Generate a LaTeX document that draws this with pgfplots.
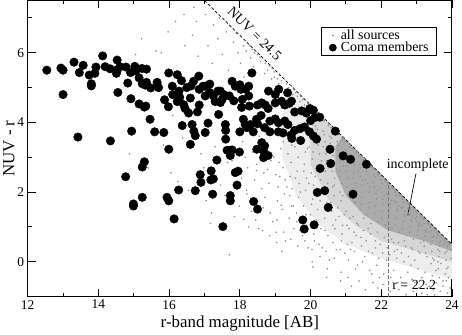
\documentclass[border=0pt]{standalone}
\usepackage{fontspec}
\setmainfont{Liberation Serif}
\usepackage{pgfplots}
\pgfplotsset{compat=1.18}

\begin{document}
\begin{tikzpicture}
\begin{axis}[
  scale only axis,
  width=427pt, height=298pt,
  xmin=12, xmax=24, ymin=-1, ymax=7.5,
  xtick={12,14,...,24}, ytick={0,2,4,6},
  minor xtick={13,15,...,23}, minor ytick={1,3,5,7},
  tick align=inside,
  major tick length=8pt, minor tick length=4pt,
  tick style={black, line width=0.9pt},
  axis line style={line width=1pt},
  tick label style={font=\fontsize{13.5}{14}\selectfont},
  /pgf/number format/assume math mode=true,
  xlabel={r-band magnitude [AB]}, ylabel={NUV - r},
  label style={font=\fontsize{17}{18}\selectfont},
  ylabel style={yshift=-4pt},
  legend style={at={(0.964,0.91)}, anchor=north east, draw=black, line width=0.6pt,
    font=\fontsize{14}{15}\selectfont, inner xsep=6pt, inner ysep=0.5pt, row sep=-3pt},
  legend cell align=left,
]
% dense part of the cloud of all sources
\addplot[fill=black!7, draw=none, forget plot] coordinates
  {(19.5,5.0) (24,0.5) (24,-0.5) (23,-0.2) (22,0.1) (21,0.5) (20.2,1.1) (19.6,1.9) (19.2,3.0) (19.2,4.2)} -- cycle;
\addplot[fill=black!16, draw=none, forget plot] coordinates
  {(20.2,4.3) (24,0.5) (24,0.0) (23,0.3) (22,0.6) (21.2,1.1) (20.5,1.8) (20.0,2.8) (20.0,3.8)} -- cycle;
\addplot[fill=black!33, draw=none, forget plot] coordinates
  {(20.9,3.6) (24,0.5) (24,0.3) (23.2,0.6) (22.2,0.9) (21.5,1.35) (21.0,1.9) (20.7,2.6) (20.7,3.3)} -- cycle;

% all sources
\addplot[only marks, mark=*, mark size=0.6pt, black!42,
  legend image code/.code={\path (0,0) (0.4cm,0); \fill[black!42] (0.2cm,0) circle (0.6pt);}] coordinates {
(15.05,5.95) (14.88,3.1) (15.22,6.4) (15.41,2.7) (15.37,4.1) (15.63,6.05) (15.78,6.0) (15.84,3.35)
(16.05,2.55) (15.97,6.6) (16.1,4.2) (16.18,6.9) (16.25,2.3) (16.42,7.1) (16.38,3.55) (16.45,6.2)
(16.55,2.05) (16.66,6.5) (16.7,7.3) (16.82,5.9) (16.9,3.1) (16.77,6.9)
(17.03,7.1) (17.1,6.2) (16.98,2.7) (17.05,1.75) (17.17,1.1) (17.2,1.4) (17.25,6.8) (17.22,5.7) (17.3,3.3)
(17.38,6.4) (17.45,2.2) (17.42,7.0) (17.5,5.95) (17.7,0.2) (17.62,6.6) (17.58,1.9) (17.65,2.85) (17.68,5.5)
(17.82,6.3) (17.85,1.3) (17.9,6.55) (17.78,2.9) (17.95,6.0)
(18.02,5.7) (18.05,2.4) (18.1,6.2) (17.98,1.6) (18.08,3.45) (18.12,5.3)
(18.18,6.05) (18.25,1.0) (18.22,2.7) (18.3,5.85) (18.15,3.0) (18.28,6.2) (18.2,1.95)
(18.38,5.6) (18.42,2.35) (18.45,1.2) (18.5,5.95) (18.36,3.15) (18.48,2.8) (18.41,6.0)
(18.58,5.75) (18.62,2.1) (18.66,1.55) (18.7,5.4) (18.55,3.6) (18.68,2.55) (18.64,0.9) (18.72,5.7)
(18.78,5.5) (18.82,2.25) (18.86,1.4) (18.9,5.25) (18.76,3.35) (18.88,2.9) (18.84,0.75) (18.92,5.55)
(18.98,5.3) (19.02,2.5) (19.06,1.75) (19.1,5.1) (18.96,3.0) (19.08,2.15) (19.04,0.55) (19.12,5.35) (19.0,4.1) (19.05,1.2)
(19.18,5.2) (19.22,2.7) (19.26,1.95) (19.3,4.95) (19.16,3.25) (19.28,2.35) (19.24,0.85) (19.32,5.1) (19.2,1.5) (19.25,3.9) (19.19,0.3)
(19.38,5.0) (19.42,2.45) (19.46,1.6) (19.5,4.8) (19.36,3.1) (19.48,2.1) (19.44,0.65) (19.52,4.95) (19.4,1.25) (19.45,2.85) (19.39,3.6)
(19.58,4.85) (19.62,2.6) (19.66,1.85) (19.7,4.6) (19.56,3.3) (19.68,2.25) (19.64,0.45) (19.72,4.75) (19.6,1.4) (19.65,3.0) (19.59,4.2) (19.69,0.9)
(19.78,4.65) (19.82,2.8) (19.86,2.05) (19.9,4.45) (19.76,3.5) (19.88,2.4) (19.84,0.6) (19.92,4.55) (19.8,1.6) (19.85,3.15) (19.79,3.95) (19.89,1.05)
(19.98,4.45) (20.02,2.55) (20.06,1.8) (20.1,4.25) (19.96,3.3) (20.08,2.2) (20.04,0.35) (20.12,4.3) (20.0,1.35) (20.05,2.95) (19.99,3.75) (20.09,0.8) (20.03,4.05) (20.07,-0.15)
(20.18,4.25) (20.22,2.75) (20.26,1.95) (20.3,4.05) (20.16,3.45) (20.28,2.35) (20.24,0.5) (20.32,4.1) (20.2,1.5) (20.25,3.1) (20.19,3.8) (20.29,0.95) (20.23,2.1) (20.27,0.15) (20.21,3.6)
(20.38,4.05) (20.42,2.6) (20.46,1.7) (20.5,3.9) (20.36,3.3) (20.48,2.25) (20.44,0.3) (20.52,3.95) (20.4,1.25) (20.45,2.9) (20.39,3.65) (20.49,0.75) (20.43,1.95) (20.47,-0.2) (20.41,3.45)
(20.58,3.85) (20.62,2.8) (20.66,1.9) (20.7,3.7) (20.56,3.4) (20.68,2.4) (20.64,0.55) (20.72,3.75) (20.6,1.45) (20.65,3.05) (20.59,3.55) (20.69,0.95) (20.63,2.15) (20.67,0.1) (20.61,2.6) (20.71,1.2)
(20.78,3.65) (20.82,2.6) (20.86,1.75) (20.9,3.5) (20.76,3.2) (20.88,2.25) (20.84,0.35) (20.92,3.55) (20.8,1.3) (20.85,2.9) (20.79,3.35) (20.89,0.8) (20.83,2.0) (20.87,-0.3) (20.81,2.45) (20.91,1.05)
(20.98,3.45) (21.02,2.75) (21.06,1.9) (21.1,3.3) (20.96,3.1) (21.08,2.4) (21.04,0.5) (21.12,3.35) (21.0,1.45) (21.05,2.95) (20.99,3.2) (21.09,0.95) (21.03,2.15) (21.07,0.05) (21.01,2.6) (21.11,1.25) (21.06,-0.45)
(21.18,3.25) (21.22,2.55) (21.26,1.7) (21.3,3.1) (21.16,2.9) (21.28,2.25) (21.24,0.3) (21.32,3.15) (21.2,1.3) (21.25,2.8) (21.19,3.0) (21.29,0.75) (21.23,2.0) (21.27,-0.2) (21.21,2.4) (21.31,1.1) (21.17,0.55)
(21.38,3.05) (21.42,2.7) (21.46,1.85) (21.5,2.9) (21.36,2.6) (21.48,2.35) (21.44,0.45) (21.52,2.95) (21.4,1.5) (21.45,2.2) (21.39,2.8) (21.49,0.9) (21.43,1.65) (21.47,0.0) (21.41,2.45) (21.51,1.25) (21.37,-0.55)
(21.58,2.85) (21.62,2.5) (21.66,1.7) (21.7,2.75) (21.56,2.35) (21.68,2.15) (21.64,0.3) (21.72,2.7) (21.6,1.35) (21.65,2.0) (21.59,2.6) (21.69,0.8) (21.63,1.55) (21.67,-0.25) (21.61,2.25) (21.71,1.1) (21.57,0.6)
(21.78,2.65) (21.82,2.45) (21.86,1.8) (21.9,2.55) (21.76,2.3) (21.88,2.05) (21.84,0.4) (21.92,2.5) (21.8,1.4) (21.85,1.95) (21.79,2.5) (21.89,0.85) (21.83,1.6) (21.87,-0.1) (21.81,2.15) (21.91,1.15) (21.77,-0.6)
(21.98,2.45) (22.02,2.25) (22.06,1.65) (22.1,2.35) (21.96,2.1) (22.08,1.9) (22.04,0.25) (22.12,2.3) (22.0,1.25) (22.05,1.8) (21.99,2.35) (22.09,0.7) (22.03,1.45) (22.07,-0.35) (22.01,2.0) (22.11,1.05) (21.97,0.5)
(22.18,2.25) (22.22,2.1) (22.26,1.55) (22.3,2.15) (22.16,1.95) (22.28,1.75) (22.24,0.2) (22.32,2.1) (22.2,1.15) (22.25,1.65) (22.19,2.2) (22.29,0.65) (22.23,1.35) (22.27,-0.45) (22.21,1.85) (22.31,0.95) (22.17,0.4)
(22.38,2.05) (22.42,1.9) (22.46,1.45) (22.5,1.95) (22.36,1.75) (22.48,1.6) (22.44,0.1) (22.52,1.9) (22.4,1.05) (22.45,1.5) (22.39,2.0) (22.49,0.55) (22.43,1.25) (22.47,-0.6) (22.41,1.7) (22.51,0.85) (22.37,0.3)
(22.58,1.85) (22.62,1.7) (22.66,1.3) (22.7,1.75) (22.56,1.55) (22.68,1.45) (22.64,0.0) (22.72,1.7) (22.6,0.95) (22.65,1.35) (22.59,1.8) (22.69,0.45) (22.63,1.15) (22.67,-0.7) (22.61,1.55) (22.71,0.75) (22.57,0.25)
(22.78,1.65) (22.82,1.5) (22.86,1.15) (22.9,1.55) (22.76,1.4) (22.88,1.3) (22.84,-0.1) (22.92,1.5) (22.8,0.85) (22.85,1.2) (22.79,1.6) (22.89,0.35) (22.83,1.0) (22.87,-0.5) (22.81,1.35) (22.91,0.65) (22.77,0.15)
(22.98,1.45) (23.02,1.3) (23.06,1.0) (23.1,1.35) (22.96,1.25) (23.08,1.1) (23.04,-0.2) (23.12,1.3) (23.0,0.75) (23.05,1.05) (22.99,1.4) (23.09,0.25) (23.03,0.9) (23.07,-0.75) (23.01,1.15) (23.11,0.55)
(23.18,1.25) (23.22,1.1) (23.26,0.85) (23.3,1.15) (23.16,1.05) (23.28,0.95) (23.24,-0.3) (23.32,1.1) (23.2,0.6) (23.25,0.9) (23.19,1.2) (23.29,0.15) (23.23,0.75) (23.27,-0.65) (23.21,0.45)
(23.38,1.05) (23.42,0.9) (23.46,0.7) (23.5,0.95) (23.36,0.85) (23.48,0.75) (23.44,-0.4) (23.52,0.9) (23.4,0.5) (23.45,0.6) (23.39,1.0) (23.49,0.05) (23.43,0.3) (23.47,-0.8) (23.41,-0.05)
(23.58,0.85) (23.62,0.75) (23.66,0.55) (23.7,0.75) (23.56,0.7) (23.68,0.6) (23.64,-0.45) (23.72,0.7) (23.6,0.35) (23.65,0.45) (23.59,0.8) (23.69,-0.05) (23.63,0.15) (23.67,-0.85) (23.61,-0.2)
(23.78,0.65) (23.82,0.55) (23.86,0.4) (23.9,0.55) (23.76,0.5) (23.88,0.45) (23.84,-0.55) (23.92,0.5) (23.8,0.25) (23.85,0.3) (23.79,0.6) (23.89,-0.15) (23.83,0.05) (23.87,-0.9) (23.81,-0.35) (23.95,0.35) (23.97,0.1)
(22.9,-0.85) (23.3,-0.95) (23.75,-0.7) (22.5,-0.8) (21.9,-0.75) (23.55,-0.6)
(18.11,1.22) (18.19,2.05) (18.33,1.45) (18.47,2.62) (18.53,0.95) (18.71,1.85) (18.79,2.65) (18.93,1.15)
(18.35,6.1) (18.57,5.88) (18.83,5.62) (18.97,5.45) (18.13,6.35) (18.61,2.95) (18.46,1.8)
(19.03,0.85) (19.11,2.85) (19.17,1.62) (19.23,3.45) (19.29,0.6) (19.33,2.15) (19.41,1.9) (19.47,3.35)
(19.53,0.95) (19.57,2.4) (19.61,1.15) (19.67,3.55) (19.71,2.0) (19.77,0.75) (19.81,2.6) (19.87,1.35)
(19.91,3.25) (19.95,2.25) (19.07,5.25) (19.34,4.95) (19.63,4.75) (19.83,4.5) (19.13,2.45) (19.51,1.6) (19.93,0.4)
(20.03,1.65) (20.07,3.15) (20.11,0.6) (20.13,2.45) (20.17,1.2) (20.21,3.35) (20.27,1.75) (20.31,2.9)
(20.33,0.4) (20.37,2.1) (20.41,0.9) (20.43,3.1) (20.47,1.45) (20.51,2.7) (20.53,0.05) (20.57,1.7)
(20.61,3.25) (20.63,1.05) (20.67,2.2) (20.73,0.35) (20.75,2.65) (20.77,1.55) (20.83,3.0) (20.87,0.6)
(20.91,1.9) (20.93,2.75) (20.97,0.25) (20.15,3.9) (20.35,3.75) (20.55,3.6) (20.75,3.45) (20.95,1.35)
(20.45,-0.45) (20.85,-0.55) (20.05,0.0)
(21.03,1.05) (21.13,0.35) (21.23,0.85) (21.33,-0.1) (21.43,0.7) (21.53,0.15) (21.63,0.95) (21.73,-0.35)
(21.83,0.6) (21.93,0.1) (21.15,-0.7) (21.55,-0.8) (21.95,-0.45) (21.35,1.05) (21.75,0.25)
(22.05,-0.65) (22.15,0.05) (22.35,-0.25) (22.45,0.35) (22.55,-0.45) (22.65,0.6) (22.75,-0.3) (22.85,0.4)
(22.95,-0.6) (23.05,0.3) (23.15,-0.45) (23.25,0.25) (23.35,-0.7) (23.45,0.1) (23.55,-0.25) (23.65,0.3)
(23.75,-0.55) (23.85,-0.2) (23.95,-0.75) (22.25,-0.85) (22.7,-0.95) (23.15,-0.9) (23.9,-0.45) (23.5,-0.95)
(22.35,0.55) (22.95,0.05) (23.6,0.0)
};
\addlegendentry{all sources}

% completeness limits
\addplot[black, line width=0.7pt, dash pattern=on 3pt off 2pt, forget plot] coordinates {(17,7.5) (24,0.5)};
\addplot[black!55, line width=1pt, dash pattern=on 4pt off 2pt, forget plot] coordinates {(22.2,-1) (22.2,2.3)};
\addplot[black, line width=0.7pt, forget plot] coordinates {(22.98,2.53) (22.75,1.33)};

% Coma members
\addplot[only marks, mark=*, mark size=4.3pt, black,
  legend image code/.code={\path (0,0) (0.4cm,0); \fill[black] (0.2cm,0) circle (3.6pt);}] coordinates {
(12.54,5.50) (12.94,5.56) (13.0,5.50) (13.0,4.80) (13.31,5.73) (13.46,5.43) (13.57,5.64) (13.74,5.36)
(13.8,5.11) (13.8,5.05) (13.93,5.59) (13.9,5.41) (14.12,5.91) (14.19,5.60) (14.33,5.54) (14.53,5.79)
(14.54,5.52) (14.51,5.41) (14.55,4.86) (14.61,5.6) (14.78,5.59) (14.83,5.13) (14.91,5.43) (14.92,4.68)
(14.94,3.75) (15.03,5.61) (15.06,5.48) (15.15,5.28) (15.23,5.55) (15.15,4.53) (15.30,4.44) (15.24,5.11)
(15.33,5.07) (13.42,3.58) (14.34,3.47)
(15.36,5.53) (15.36,5.15) (15.48,4.99) (15.66,5.15) (15.7,5.0) (15.34,4.47) (15.46,4.09) (15.59,3.73)
(15.85,3.71) (15.99,5.42) (15.99,3.23) (16.09,5.04) (16.1,4.8) (16.23,5.37) (16.23,4.6) (16.28,4.9)
(16.3,4.72) (16.35,5.2) (16.41,4.51) (16.45,4.4) (16.5,5.0) (16.55,4.27) (16.37,3.91) (16.6,4.7)
(16.69,5.18) (16.65,3.94) (16.7,3.75) (16.74,3.62) (16.6,3.37) (16.84,5.33) (16.85,4.95) (16.85,4.5)
(16.8,4.3) (17.02,5.04) (17.02,4.76) (17.02,3.71) (17.1,3.98) (17.15,5.1) (17.15,4.86) (17.25,4.76)
(17.3,4.6) (17.4,4.23) (17.45,4.9) (17.45,4.57) (17.55,4.8) (17.59,3.94) (17.6,3.77) (17.6,3.52)
(17.7,4.76) (17.78,5.18) (17.83,4.62) (17.87,5.04) (17.78,3.21) (18.0,5.08) (18.03,4.95) (18.07,4.66)
(18.05,4.43) (18.1,4.09) (18.15,3.94) (18.0,3.73) (18.17,4.95) (18.25,5.04) (18.34,5.42) (18.25,4.76)
(18.27,4.47) (18.2,3.85) (18.3,3.94) (18.38,3.73) (18.47,4.09) (18.5,4.5)
(15.87,4.65) (15.98,4.45) (16.62,5.05) (16.96,5.04) (17.38,4.9) (17.64,3.2) (17.5,4.66)
(18.81,4.90) (19.0,4.8) (18.62,4.56) (18.72,4.5) (18.8,4.4) (19.0,4.56) (19.18,4.61) (19.27,4.5)
(19.4,4.55) (19.46,4.61) (19.55,4.3) (19.75,4.33) (19.88,4.27) (19.98,4.4) (20.08,4.35) (20.26,4.15)
(20.12,4.14) (20.0,4.05) (18.6,4.2) (18.5,3.96) (18.85,4.04) (19.0,4.1) (19.09,3.99) (19.27,4.04)
(19.36,3.94) (19.09,3.73) (19.22,3.7) (18.85,3.73) (18.7,3.85) (19.45,3.64) (19.55,3.77) (19.7,3.82)
(19.83,3.87) (19.97,3.73) (20.08,3.61) (20.17,3.52) (20.7,3.75) (20.55,3.23) (18.7,3.33) (19.1,4.95)
(19.35,4.85)
(18.62,3.42) (18.67,3.18) (18.67,2.99) (18.8,3.05) (19.47,3.54) (19.72,3.48) (20.57,2.82) (20.92,3.04)
(21.13,2.94) (21.58,2.8) (20.27,2.68) (20.19,1.99) (20.4,2.04) (21.2,1.94) (20.5,1.56) (19.78,1.2)
(19.82,0.94) (20.1,1.06) (18.39,1.73) (18.5,1.51)
(14.77,2.44) (15.24,2.72) (15.3,2.87) (14.99,1.66) (14.99,1.6) (15.24,1.85) (15.94,1.85) (15.99,1.75)
(16.14,1.23) (16.27,2.06) (16.74,2.04) (16.88,2.5) (16.9,2.28) (17.19,2.61) (17.18,2.35) (17.25,2.38)
(17.23,1.94) (17.52,1.01) (17.35,2.92) (17.73,3.2) (17.73,3.05) (17.99,3.15) (17.87,2.56) (17.95,2.6)
(17.92,2.2) (17.73,1.9) (17.73,1.75) (18.48,3.23)
};
\addlegendentry{Coma members}

\node[rotate=-44.5, font=\fontsize{14}{15}\selectfont] at (axis cs:18.42,6.55) {NUV = 24.5};
\node[font=\fontsize{14}{15}\selectfont] at (axis cs:23.03,2.76) {incomplete};
\node[anchor=west, font=\fontsize{14}{15}\selectfont, inner sep=1pt] at (axis cs:22.28,-0.67) {r = 22.2};
\end{axis}
\end{tikzpicture}
\end{document}
